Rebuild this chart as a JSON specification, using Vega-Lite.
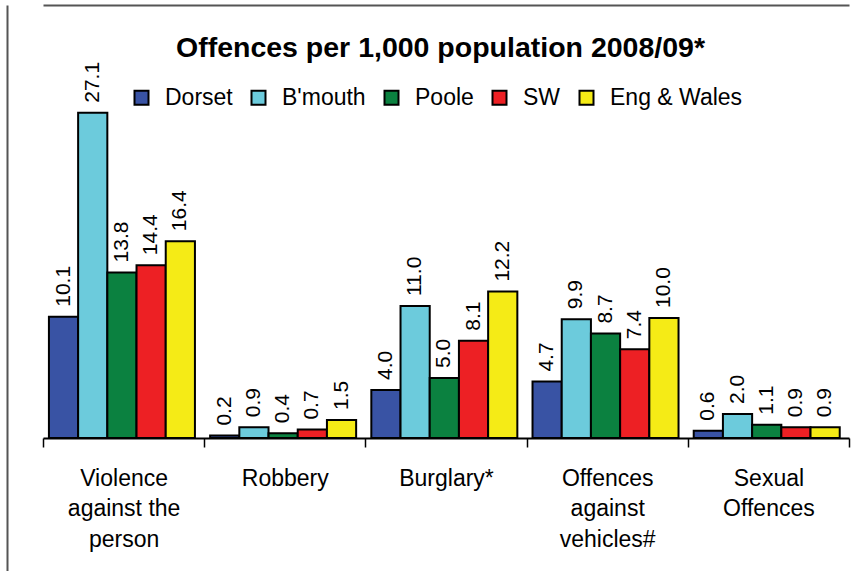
{
  "$schema": "https://vega.github.io/schema/vega-lite/v6.json",
  "autosize": {"type": "none"},
  "padding": {"left": 7, "top": 5, "right": 0, "bottom": 0},
  "width": 849,
  "height": 566,
  "title": {
    "text": "Offences per 1,000 population 2008/09*",
    "orient": "top",
    "anchor": "middle",
    "offset": -80,
    "baseline": "alphabetic",
    "dx": 9,
    "font": "Liberation Sans",
    "fontSize": 28.5,
    "fontWeight": "bold",
    "color": "#000000"
  },
  "data": {
    "values": [
      {"category": "Violence against the person", "area": "Dorset", "rate": 10.1},
      {"category": "Violence against the person", "area": "B'mouth", "rate": 27.1},
      {"category": "Violence against the person", "area": "Poole", "rate": 13.8},
      {"category": "Violence against the person", "area": "SW", "rate": 14.4},
      {"category": "Violence against the person", "area": "Eng & Wales", "rate": 16.4},
      {"category": "Robbery", "area": "Dorset", "rate": 0.2},
      {"category": "Robbery", "area": "B'mouth", "rate": 0.9},
      {"category": "Robbery", "area": "Poole", "rate": 0.4},
      {"category": "Robbery", "area": "SW", "rate": 0.7},
      {"category": "Robbery", "area": "Eng & Wales", "rate": 1.5},
      {"category": "Burglary*", "area": "Dorset", "rate": 4.0},
      {"category": "Burglary*", "area": "B'mouth", "rate": 11.0},
      {"category": "Burglary*", "area": "Poole", "rate": 5.0},
      {"category": "Burglary*", "area": "SW", "rate": 8.1},
      {"category": "Burglary*", "area": "Eng & Wales", "rate": 12.2},
      {"category": "Offences against vehicles#", "area": "Dorset", "rate": 4.7},
      {"category": "Offences against vehicles#", "area": "B'mouth", "rate": 9.9},
      {"category": "Offences against vehicles#", "area": "Poole", "rate": 8.7},
      {"category": "Offences against vehicles#", "area": "SW", "rate": 7.4},
      {"category": "Offences against vehicles#", "area": "Eng & Wales", "rate": 10.0},
      {"category": "Sexual Offences", "area": "Dorset", "rate": 0.6},
      {"category": "Sexual Offences", "area": "B'mouth", "rate": 2.0},
      {"category": "Sexual Offences", "area": "Poole", "rate": 1.1},
      {"category": "Sexual Offences", "area": "SW", "rate": 0.9},
      {"category": "Sexual Offences", "area": "Eng & Wales", "rate": 0.9}
    ]
  },
  "encoding": {
    "x": {
      "field": "category",
      "type": "nominal",
      "sort": null,
      "scale": {"range": [36, 842], "paddingInner": 0, "paddingOuter": 0},
      "axis": {
        "orient": "bottom",
        "offset": -133,
        "title": null,
        "domain": true,
        "domainColor": "#000000",
        "domainWidth": 2,
        "ticks": true,
        "tickBand": "extent",
        "tickColor": "#000000",
        "tickWidth": 1.5,
        "tickSize": 9,
        "labelAngle": 0,
        "labelFont": "Liberation Sans",
        "labelFontSize": 23,
        "labelColor": "#000000",
        "labelPadding": 20,
        "labelLineHeight": 30.5,
        "labelLimit": 0,
        "labelExpr": "datum.value == 'Violence against the person' ? ['Violence', 'against the', 'person'] : datum.value == 'Offences against vehicles#' ? ['Offences', 'against', 'vehicles#'] : datum.value == 'Sexual Offences' ? ['Sexual', 'Offences'] : datum.value"
      }
    },
    "xOffset": {
      "field": "area",
      "type": "nominal",
      "sort": ["Dorset", "B'mouth", "Poole", "SW", "Eng & Wales"],
      "scale": {"paddingInner": 0, "paddingOuter": 0.26, "align": 0.39}
    },
    "y": {
      "field": "rate",
      "type": "quantitative",
      "scale": {"domain": [-11.0833, 36.0833], "nice": false, "zero": false},
      "axis": {
        "orient": "left",
        "title": null,
        "labels": false,
        "ticks": false,
        "domain": true,
        "domainColor": "#555555",
        "domainWidth": 2,
        "grid": true,
        "values": [36.08],
        "gridColor": "#555555",
        "gridWidth": 2,
        "gridOpacity": 1
      }
    }
  },
  "layer": [
    {
      "mark": {"type": "bar", "stroke": "#000000", "strokeWidth": 2, "opacity": 1},
      "encoding": {
        "y2": {"datum": 0},
        "color": {
          "field": "area",
          "type": "nominal",
          "scale": {
            "domain": ["Dorset", "B'mouth", "Poole", "SW", "Eng & Wales"],
            "range": ["#3953A4", "#6CCBDC", "#0B8140", "#ED2024", "#F5EB16"]
          },
          "legend": {
            "orient": "none",
            "legendX": 123,
            "legendY": 81,
            "direction": "horizontal",
            "title": null,
            "padding": 0,
            "symbolType": "square",
            "symbolSize": 196,
            "symbolStrokeColor": "#000000",
            "symbolStrokeWidth": 2,
            "symbolOpacity": 1,
            "labelFont": "Liberation Sans",
            "labelFontSize": 23,
            "labelColor": "#000000",
            "labelOffset": 12,
            "columnPadding": 14
          }
        }
      }
    },
    {
      "mark": {
        "type": "text",
        "angle": 270,
        "align": "left",
        "baseline": "middle",
        "dx": 10,
        "font": "Liberation Sans",
        "fontSize": 21,
        "color": "#000000"
      },
      "encoding": {
        "text": {"field": "rate", "type": "quantitative", "format": ".1f"}
      }
    }
  ],
  "config": {
    "view": {"stroke": null},
    "background": "#ffffff"
  }
}
